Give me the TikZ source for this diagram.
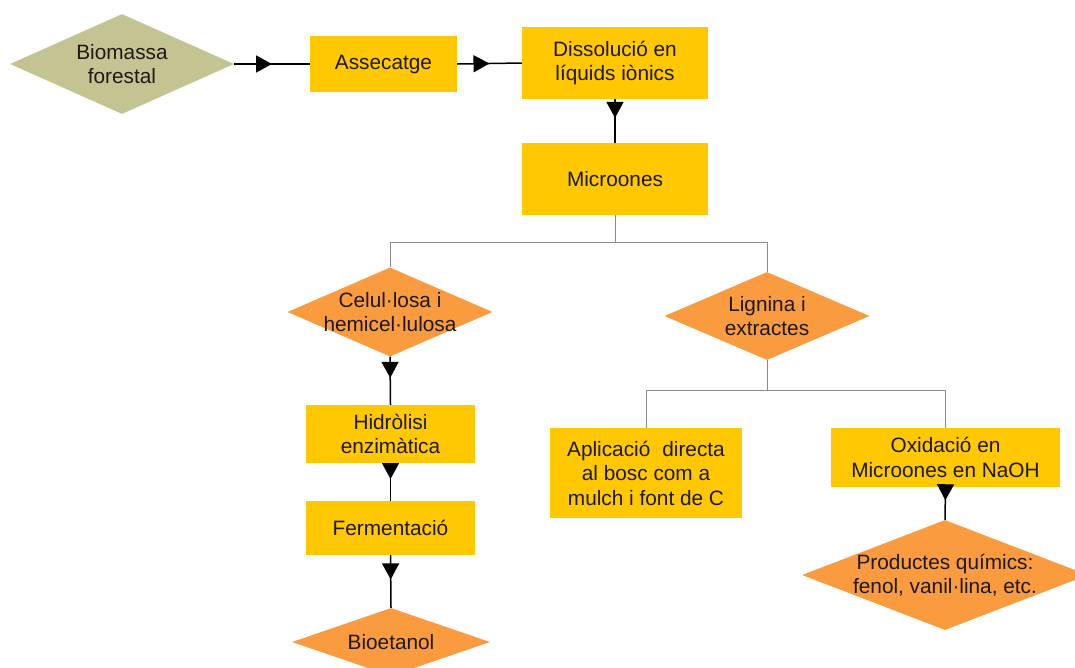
\documentclass[tikz,border=0pt]{standalone}
\usepackage{fontspec}
\setmainfont{Liberation Sans}
\usetikzlibrary{arrows.meta,decorations.markings,shapes.geometric}
\definecolor{boxyellow}{RGB}{255,200,0}
\definecolor{dorange}{RGB}{249,155,62}
\definecolor{olive}{RGB}{196,196,146}
\definecolor{txt}{RGB}{30,25,20}
\definecolor{linegray}{RGB}{140,140,140}
\tikzset{
  every node/.style={font=\fontsize{20.8}{24.5}\selectfont, text=txt, align=center},
  ybox/.style={rectangle, fill=boxyellow, inner sep=0pt},
  dshape/.style={diamond, inner sep=0pt, minimum width=#1},
  txtnode/.style={inner sep=0pt},
  flow/.style={line width=1.5pt, black, postaction={decorate},
    decoration={markings, mark=at position #1 with {\arrow{Triangle[length=16pt,width=17pt]}}}},
  tree/.style={line width=0.9pt, linegray},
}
\begin{document}
\begin{tikzpicture}[x=1pt,y=-1pt]
\useasboundingbox (0,0) rectangle (1075,667);
% diamonds
\node[dshape=224pt, minimum height=100pt, fill=olive] (bio) at (122,64) {};
\node[txtnode] (biot) at (bio) {Biomassa\\forestal};
\node[dshape=205pt, minimum height=89pt, fill=dorange] (cel) at (390,312) {};
\node[txtnode] (celt) at (cel) {Celul·losa i\\hemicel·lulosa};
\node[dshape=205pt, minimum height=88pt, fill=dorange] (lig) at (767,316) {};
\node[txtnode] (ligt) at (lig) {Lignina i\\extractes};
\node[dshape=198pt, minimum height=68pt, fill=dorange] (bioe) at (391,642) {};
\node[txtnode] (bioet) at (bioe) {Bioetanol};
\node[dshape=286pt, minimum height=110pt, fill=dorange] (pro) at (945,575) {};
\node[txtnode] (prot) at (pro) {Productes químics:\\fenol, vanil·lina, etc.};
% boxes
\node[ybox, minimum width=147pt, minimum height=56pt] (ass) at (383.5,64) {Assecatge};
\node[ybox, minimum width=186pt, minimum height=72pt] (dis) at (615,63) {Dissolució en\\líquids iònics};
\node[ybox, minimum width=186pt, minimum height=72pt] (mic) at (615,179) {Microones};
\node[ybox, minimum width=169pt, minimum height=58pt] (hid) at (390.5,434) {Hidròlisi\\enzimàtica};
\node[ybox, minimum width=169pt, minimum height=54pt] (fer) at (390.5,528) {Fermentació};
\node[ybox, minimum width=192pt, minimum height=90pt] (apl) at (646,473) {Aplicació\hspace{0.3em} directa\\al bosc com a\\mulch i font de C};
\node[ybox, minimum width=229pt, minimum height=59pt] (oxi) at (945.5,457.5) {Oxidació en\\Microones en NaOH};
% arrows
\draw[flow=0.5] (bio.east) -- (ass.west);
\draw[flow=0.5] (ass.east) -- (dis.west);
\draw[flow=0.43] (dis.south) -- (mic.north);
\draw[flow=0.44] (cel.south) -- (hid.north);
\draw[flow=0.42] (hid.south) -- (fer.north);
\draw[flow=0.46] (fer.south) -- (bioe.north);
\draw[flow=0.4] (oxi.south) -- (pro.north);
% tree connectors
\coordinate (j1) at (615,242);
\coordinate (j2) at (767,390);
\draw[tree] (mic.south) -- (j1) -| (cel.north);
\draw[tree] (j1) -| (lig.north);
\draw[tree] (lig.south) -- (j2) -| (apl.north);
\draw[tree] (j2) -| (oxi.north);
\end{tikzpicture}
\end{document}
